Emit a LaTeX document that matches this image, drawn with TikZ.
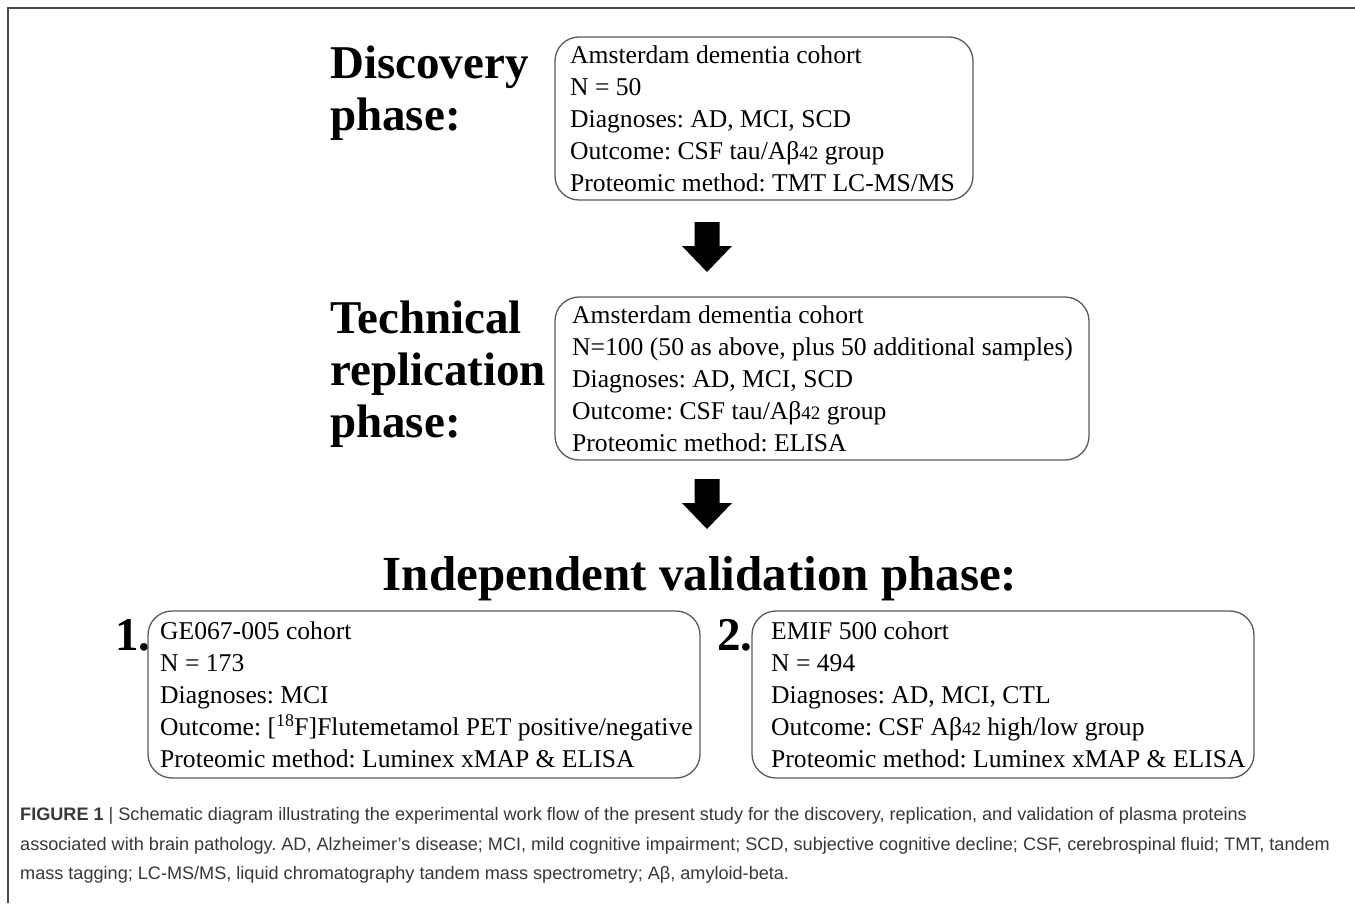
\documentclass[tikz,border=0pt]{standalone}
\usepackage{fontspec}
\setmainfont{Liberation Serif}
\newfontfamily\capfont{Liberation Sans}
\definecolor{framegray}{HTML}{4A4A4A}
\definecolor{boxgray}{HTML}{5A5A5A}
\definecolor{capgray}{HTML}{383838}
\tikzset{
  cbox/.style={draw=boxgray, line width=1.3pt, rounded corners=24pt, inner sep=0pt},
  btext/.style={anchor=north west, inner sep=0pt, align=left, font=\fontsize{25.6}{32}\selectfont},
  phase/.style={anchor=north west, inner sep=0pt, align=left, font=\bfseries\fontsize{47}{52}\selectfont},
  numlbl/.style={anchor=base west, inner sep=0pt, font=\bfseries\fontsize{47}{52}\selectfont},
  capline/.style={anchor=base west, inner sep=0pt, text=capgray, font=\capfont\fontsize{18.1}{23}\selectfont},
  downarrow/.pic={\fill[black] (-12.5,0) -- (12.5,0) -- (12.5,24) -- (25,24) -- (0,50) -- (-25,24) -- (-12.5,24) -- cycle;}
}
\newcommand\abx{Aβ{\fontsize{19}{20}\selectfont 42}}
\frenchspacing
\begin{document}
\begin{tikzpicture}[x=1pt,y=-1pt]
\useasboundingbox[fill=white] (0,0) rectangle (1355,903);
% frame
\draw[framegray, line width=2pt] (8,903) -- (8,8) -- (1355,8);

% discovery
\node[phase] (h1) at (330,46) {Discovery\\phase:};
\node[cbox, minimum width=418pt, minimum height=163pt] (b1) at (764,118.5) {};
\node[btext] (t1) at (570,46) {Amsterdam dementia cohort\\N = 50\\Diagnoses: AD, MCI, SCD\\Outcome: CSF tau/\abx{} group\\Proteomic method: TMT LC-MS/MS};

\pic at (707,222) {downarrow};

% technical replication
\node[phase] (h2) at (330,301) {Technical\\replication\\phase:};
\node[cbox, minimum width=534pt, minimum height=163pt] (b2) at (822,378.5) {};
\node[btext] (t2) at (572,306) {Amsterdam dementia cohort\\N=100 (50 as above, plus 50 additional samples)\\Diagnoses: AD, MCI, SCD\\Outcome: CSF tau/\abx{} group\\Proteomic method: ELISA};

\pic at (707,479) {downarrow};

% validation
\node[anchor=base, inner sep=0pt, font=\bfseries\fontsize{49}{52}\selectfont] (h3) at (700,590) {Independent validation phase:};

\node[numlbl] (n1) at (115,650) {1.};
\node[cbox, minimum width=552pt, minimum height=167pt] (b3) at (424,694.5) {};
\node[btext] (t3) at (160,622) {GE067-005 cohort\\N = 173\\Diagnoses: MCI\\Outcome: [\textsuperscript{18}F]Flutemetamol PET positive/negative\\Proteomic method: Luminex xMAP \& ELISA};

\node[numlbl] (n2) at (717,650) {2.};
\node[cbox, minimum width=502pt, minimum height=167pt] (b4) at (1003,694.5) {};
\node[btext] (t4) at (771,622) {EMIF 500 cohort\\N = 494\\Diagnoses: AD, MCI, CTL\\Outcome: CSF \abx{} high/low group\\Proteomic method: Luminex xMAP \& ELISA};

% caption
\node[capline] (c1) at (20,820) {\textbf{FIGURE 1} | Schematic diagram illustrating the experimental work flow of the present study for the discovery, replication, and validation of plasma proteins};
\node[capline] (c2) at (20,850) {associated with brain pathology. AD, Alzheimer’s disease; MCI, mild cognitive impairment; SCD, subjective cognitive decline; CSF, cerebrospinal fluid; TMT, tandem};
\node[capline] (c3) at (20,879) {mass tagging; LC-MS/MS, liquid chromatography tandem mass spectrometry; Aβ, amyloid-beta.};
\end{tikzpicture}
\end{document}
